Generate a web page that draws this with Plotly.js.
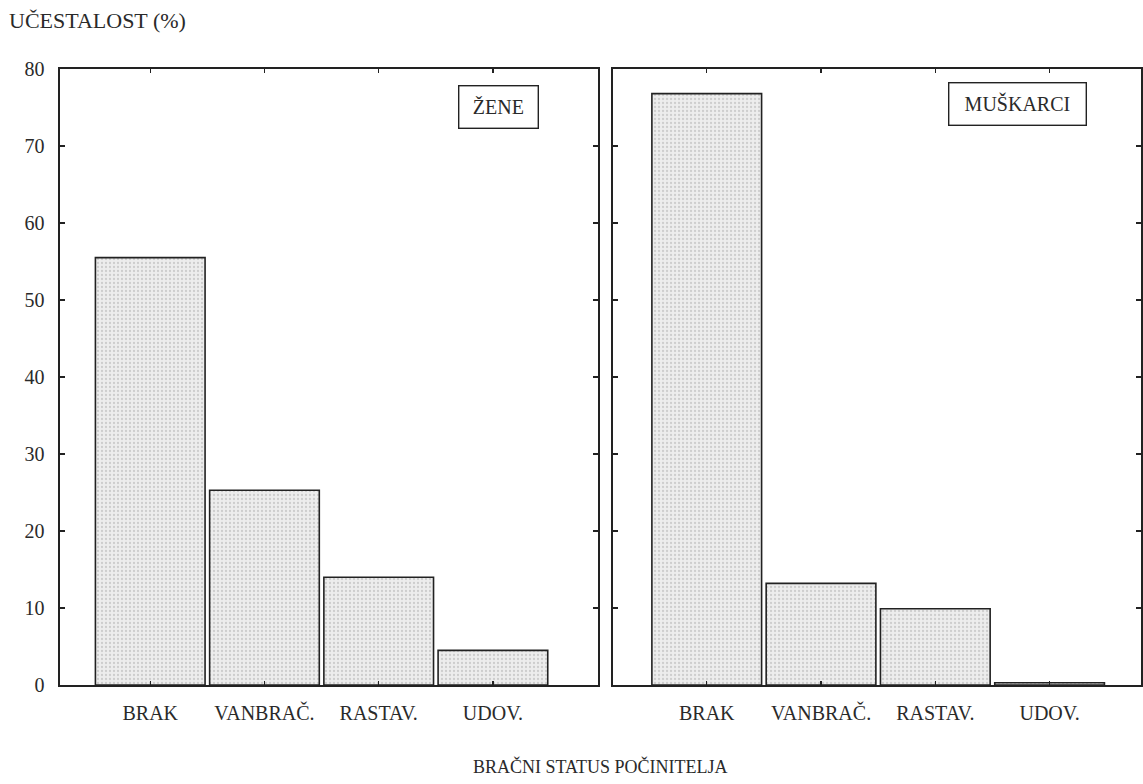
<!DOCTYPE html>
<html>
<head>
<meta charset="utf-8">
<script src="https://cdn.plot.ly/plotly-3.0.1.min.js"></script>
<style>html,body{margin:0;padding:0;background:#fff;}#chart{width:1143px;height:784px;}</style>
</head>
<body>
<div id="chart"></div>
<script>
const categories = ["BRAK", "VANBRAČ.", "RASTAV.", "UDOV."];
const zeneValues = [55.5, 25.3, 14.0, 4.5];
const muskarciValues = [76.8, 13.2, 9.9, 0.3];
const yTickVals = [0, 10, 20, 30, 40, 50, 60, 70, 80];
const panelLabels = ["ŽENE", "MUŠKARCI"];

const fam = "Liberation Serif, Times New Roman, serif";
const font = {family: fam, size: 20, color: "#2a2a2a"};
const barStyle = {
  color: "#e6e6e6",
  line: {color: "#222", width: 1.6},
  pattern: {shape: ".", fgcolor: "#cdcdcd", bgcolor: "#ededed", size: 4, solidity: 0.25}
};

const traces = [
  {type: "bar", x: categories, y: zeneValues, xaxis: "x", yaxis: "y", width: 0.96, marker: barStyle, showlegend: false},
  {type: "bar", x: categories, y: muskarciValues, xaxis: "x2", yaxis: "y2", width: 0.96, marker: barStyle, showlegend: false}
];

const xBase = {
  type: "category", showline: true, linecolor: "#222", linewidth: 1.6, mirror: "allticks",
  ticks: "inside", ticklen: 4, tickcolor: "#222", tickwidth: 1.2, showgrid: false, zeroline: false,
  tickfont: font, ticklabelstandoff: 9, fixedrange: true
};
const yBase = {
  range: [0, 80], tickvals: yTickVals, showline: true, linecolor: "#222", linewidth: 1.6, mirror: "allticks",
  ticks: "inside", ticklen: 5, tickcolor: "#222", tickwidth: 1.2, showgrid: false, zeroline: false,
  tickfont: font, fixedrange: true
};

const layout = {
  width: 1143, height: 784,
  margin: {l: 60, r: 2, t: 69, b: 99},
  paper_bgcolor: "#fff", plot_bgcolor: "#fff",
  font: font,
  bargap: 0,
  xaxis: Object.assign({}, xBase, {domain: [0, 0.4977], range: [-0.79, 3.92], anchor: "y"}),
  xaxis2: Object.assign({}, xBase, {domain: [0.5116, 1], range: [-0.82, 3.80], anchor: "y2"}),
  yaxis: Object.assign({}, yBase, {anchor: "x", ticklabelstandoff: 10}),
  yaxis2: Object.assign({}, yBase, {anchor: "x2", showticklabels: false, matches: "y"}),
  annotations: [
    {text: "UČESTALOST (%)", xref: "paper", yref: "paper", x: -0.049, y: 1.0795, xanchor: "left", yanchor: "middle", showarrow: false,
     font: {family: fam, size: 22, color: "#2a2a2a"}},
    {text: "BRAČNI STATUS POČINITELJA", xref: "paper", yref: "paper", x: 0.5, y: -0.1315, xanchor: "center", yanchor: "middle", showarrow: false,
     font: {family: fam, size: 18, color: "#2a2a2a"}},
    {text: panelLabels[0], xref: "paper", yref: "paper", x: 0.4052, y: 0.939, xanchor: "center", yanchor: "middle", showarrow: false,
     font: font, width: 66, height: 29, bordercolor: "#222", borderwidth: 1.4, borderpad: 6, bgcolor: "#fff"},
    {text: panelLabels[1], xref: "paper", yref: "paper", x: 0.8853, y: 0.943, xanchor: "center", yanchor: "middle", showarrow: false,
     font: font, width: 124, height: 29, bordercolor: "#222", borderwidth: 1.4, borderpad: 6, bgcolor: "#fff"}
  ]
};

Plotly.newPlot("chart", traces, layout, {displayModeBar: false, staticPlot: true});
</script>
</body>
</html>
